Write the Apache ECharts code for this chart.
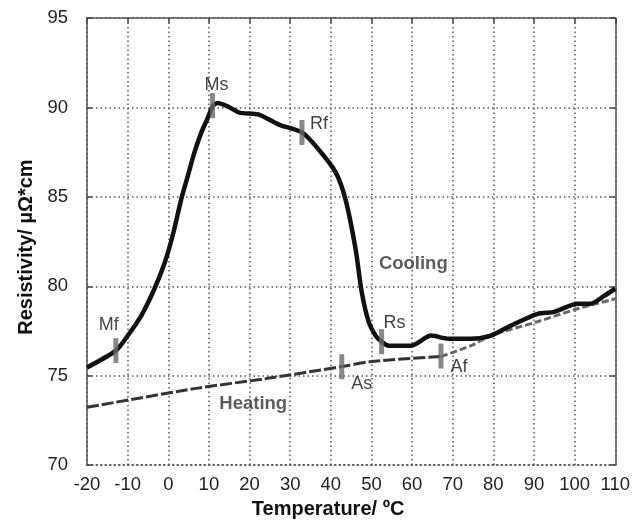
<!DOCTYPE html>
<html>
<head>
<meta charset="utf-8">
<script src="https://cdn.jsdelivr.net/npm/echarts@6/dist/echarts.min.js"></script>
<style>html,body{margin:0;padding:0;background:#fff;}#c{width:633px;height:524px;}</style>
</head>
<body>
<div id="c"></div>
<script>
// Cooling curve (temperature °C, resistivity µΩ*cm)
var coolingT = [-20, -12.9, -9.9, -6.6, -3.4, -0.9, 1.1, 3.2, 4.8, 6.4, 8.1, 9.7, 10.9, 12.1, 14.6, 17.5, 22.3, 27.2, 32.9, 37.0, 41.2, 43.6, 46.1, 47.6, 49.3, 51.0, 52.5, 54.2, 59.8, 64.7, 68.9, 74.5, 79.4, 84.3, 90.9, 95.0, 100.7, 103.9, 107.3, 110];
var coolingR = [75.46, 76.40, 77.26, 78.37, 79.86, 81.30, 82.85, 84.87, 86.16, 87.46, 88.58, 89.40, 90.06, 90.25, 90.06, 89.71, 89.60, 89.04, 88.60, 87.65, 86.37, 84.87, 82.08, 79.69, 78.02, 77.24, 76.90, 76.68, 76.68, 77.24, 77.07, 77.07, 77.24, 77.80, 78.46, 78.57, 79.02, 79.02, 79.47, 79.86];
// Heating curve, part up to Af and part after Af
var heatingT1 = [-20, 6.9, 24.1, 42.7, 50.0, 67.1];
var heatingR1 = [73.23, 74.29, 74.84, 75.51, 75.79, 76.07];
var heatingT2 = [67.1, 74.5, 79.4, 90.9, 100.7, 110];
var heatingR2 = [76.07, 76.68, 77.24, 78.02, 78.74, 79.30];
// Transformation points
var pointNames = ['Mf', 'Ms', 'Rf', 'Rs', 'As', 'Af'];
var pointT = [-12.9, 10.9, 32.9, 52.5, 42.7, 67.1];
var pointR = [76.4, 90.1, 88.6, 76.9, 75.5, 76.1];
// Curve annotations
var noteNames = ['Cooling', 'Heating'];
var noteT = [60.3, 20.9];
var noteR = [81.25, 73.4];
// Axis ticks
var xTicks = {min: -20, max: 110, step: 10};
var yTicks = {min: 70, max: 95, step: 5};

var labelOffsets = {Mf: [-7, -26], Ms: [4, -21], Rf: [17, -8], Rs: [13, -19], As: [20, 17], Af: [18, 11]};

function zip(a, b) { return a.map(function (v, i) { return [v, b[i]]; }); }

var FONT = "'Liberation Sans', Arial, sans-serif";
var chart = echarts.init(document.getElementById('c'), null, {renderer: 'canvas'});
var gridLine = {show: true, lineStyle: {color: '#555', width: 1.5, type: [1.5, 3]}};
chart.setOption({
  animation: false,
  backgroundColor: '#fff',
  grid: {left: 87, right: 15, top: 18, bottom: 57},
  xAxis: [{
    type: 'value', min: xTicks.min, max: xTicks.max, interval: xTicks.step, position: 'bottom',
    axisLine: {show: true, onZero: false, lineStyle: {color: '#555', width: 1.5, type: [1.5, 3]}},
    axisTick: {show: false},
    axisLabel: {fontSize: 18.5, color: '#222', margin: 10, fontFamily: FONT},
    splitLine: gridLine,
    name: 'Temperature/ ºC', nameLocation: 'middle', nameGap: 33,
    nameTextStyle: {fontSize: 20, fontWeight: 'bold', color: '#111', fontFamily: FONT, padding: [0, 46, 0, 0]}
  }, {
    type: 'value', min: xTicks.min, max: xTicks.max, interval: xTicks.step, position: 'top',
    axisLine: {show: true, onZero: false, lineStyle: {color: '#555', width: 1.5}},
    axisTick: {show: true, inside: true, length: 5, lineStyle: {color: '#444', width: 1.5}},
    axisLabel: {show: false}, splitLine: {show: false}
  }],
  yAxis: [{
    type: 'value', min: yTicks.min, max: yTicks.max, interval: yTicks.step, position: 'left',
    axisLine: {show: true, onZero: false, lineStyle: {color: '#555', width: 1.5}},
    axisTick: {show: true, inside: true, length: 5, lineStyle: {color: '#444', width: 1.5}},
    axisLabel: {fontSize: 18.5, color: '#222', margin: 19, fontFamily: FONT},
    splitLine: gridLine,
    name: 'Resistivity/ µΩ*cm', nameLocation: 'middle', nameGap: 50,
    nameTextStyle: {fontSize: 20, fontWeight: 'bold', color: '#111', fontFamily: FONT, padding: [0, 11, 0, 0]}
  }, {
    type: 'value', min: yTicks.min, max: yTicks.max, interval: yTicks.step, position: 'right',
    axisLine: {show: true, onZero: false, lineStyle: {color: '#555', width: 1.5}},
    axisTick: {show: true, inside: true, length: 5, lineStyle: {color: '#444', width: 1.5}},
    axisLabel: {show: false}, splitLine: {show: false}
  }],
  series: [{
    name: 'Heating', type: 'line', data: zip(heatingT1, heatingR1), showSymbol: false, smooth: 0.3,
    lineStyle: {color: '#333', width: 3, type: [12, 3]}, z: 3
  }, {
    name: 'Heating2', type: 'line', data: zip(heatingT2, heatingR2), showSymbol: false, smooth: 0.3,
    lineStyle: {color: '#666', width: 3, type: [7, 3]}, z: 3
  }, {
    name: 'Cooling', type: 'line', data: zip(coolingT, coolingR), showSymbol: false, smooth: 0.25,
    lineStyle: {color: '#111', width: 4.5}, z: 4
  }, {
    name: 'Points', type: 'scatter', symbol: 'rect', symbolSize: [5, 25], z: 5,
    itemStyle: {color: '#6a6a6a'},
    data: pointNames.map(function (n, i) {
      return {name: n, value: [pointT[i], pointR[i]],
        label: {show: true, position: 'inside', offset: labelOffsets[n], formatter: '{b}',
          fontSize: 18, color: '#111', fontFamily: FONT}};
    })
  }, {
    name: 'Notes', type: 'scatter', symbolSize: 0, z: 5,
    data: noteNames.map(function (n, i) {
      return {name: n, value: [noteT[i], noteR[i]],
        label: {show: true, position: 'inside', formatter: '{b}', fontSize: 18.5, fontWeight: 'bold',
          color: '#333', fontFamily: FONT}};
    })
  }]
});
</script>
</body>
</html>
